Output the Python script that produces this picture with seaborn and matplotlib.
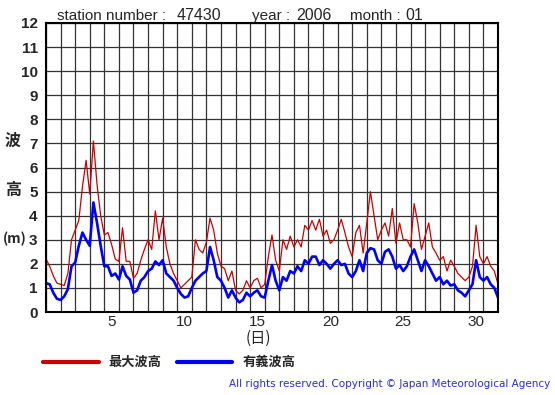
import numpy as np
import pandas as pd
import matplotlib

matplotlib.use("Agg")
import matplotlib.pyplot as plt
import seaborn as sns

# 6-hourly readings, Jan 1 00:00 .. Jan 31 24:00 (m)
max_wave = [
    2.2, 1.9, 1.5, 1.2, 1.15, 1.1, 1.6, 3.0, 3.4, 3.8, 5.2, 6.3, 4.9, 7.1, 5.3, 4.0,
    3.2, 3.3, 2.8, 2.2, 2.1, 3.5, 2.1, 2.1, 1.4, 1.6, 2.15, 2.6, 3.0, 2.6, 4.2, 3.0,
    3.9, 2.7, 2.0, 1.6, 1.3, 1.0, 1.15, 1.3, 1.45, 3.0, 2.6, 2.45, 2.9, 3.9, 3.4, 2.45,
    1.9, 1.8, 1.3, 1.7, 0.9, 0.75, 0.9, 1.3, 1.0, 1.3, 1.4, 1.0, 1.15, 2.3, 3.2, 2.15,
    1.7, 3.0, 2.6, 3.15, 2.7, 3.0, 2.7, 3.6, 3.4, 3.8, 3.4, 3.85, 3.15, 3.4, 2.85, 3.0,
    3.4, 3.85, 3.3, 2.7, 2.3, 3.3, 3.6, 2.45, 3.7, 5.0, 4.0, 3.0, 3.4, 3.7, 3.15, 4.3,
    2.85, 3.7, 3.0, 3.0, 2.7, 4.5, 3.7, 2.6, 3.15, 3.7, 2.7, 2.45, 2.15, 2.3, 1.7, 2.15,
    1.9, 1.6, 1.45, 1.3, 1.45, 1.9, 3.6, 2.3, 2.0, 2.3, 1.9, 1.7, 1.15,
]
sig_wave = [
    1.2, 1.15, 0.8, 0.55, 0.5, 0.65, 0.95, 1.9, 2.05, 2.75, 3.3, 3.0, 2.75, 4.55, 3.7, 2.75,
    1.9, 1.9, 1.5, 1.6, 1.35, 1.9, 1.5, 1.35, 0.8, 0.9, 1.3, 1.45, 1.7, 1.8, 2.1, 1.95,
    2.15, 1.6, 1.45, 1.3, 1.0, 0.75, 0.6, 0.65, 1.0, 1.3, 1.45, 1.6, 1.7, 2.7, 2.15, 1.45,
    1.3, 1.0, 0.6, 0.9, 0.6, 0.4, 0.5, 0.8, 0.65, 0.8, 0.9, 0.65, 0.6, 1.3, 1.95, 1.3,
    0.9, 1.45, 1.3, 1.7, 1.6, 1.9, 1.7, 2.15, 2.0, 2.3, 2.3, 1.95, 2.15, 2.0, 1.8, 2.0,
    2.15, 1.95, 2.0, 1.6, 1.45, 1.7, 2.15, 1.7, 2.45, 2.65, 2.6, 2.15, 2.0, 2.5, 2.6, 2.3,
    1.8, 1.95, 1.7, 1.9, 2.3, 2.6, 2.15, 1.7, 2.15, 1.9, 1.6, 1.3, 1.45, 1.15, 1.3, 1.1,
    1.15, 0.9, 0.8, 0.65, 0.9, 1.15, 2.15, 1.45, 1.3, 1.45, 1.15, 1.0, 0.6,
]
day_labels = [5, 10, 15, 20, 25, 30]

days = np.arange(len(max_wave)) * 0.25
df = pd.DataFrame({"day": days, "max": max_wave, "sig": sig_wave})

sns.set_style("white")
plt.rcParams["font.family"] = ["Liberation Sans", "DejaVu Sans", "Noto Sans CJK JP"]
jp = ["Noto Sans CJK JP", "DejaVu Sans"]

fig = plt.figure(figsize=(5.55, 3.95), dpi=100)
ax = fig.add_axes([46 / 555, 1 - 312 / 395, 452 / 555, 289 / 395])

sns.lineplot(data=df, x="day", y="max", ax=ax, color="#CC0000", linewidth=0.9)
sns.lineplot(data=df, x="day", y="sig", ax=ax, color="#0000FF", linewidth=1.9)

ax.set_xlim(0, 31)
ax.set_ylim(0, 12)
ax.set_xticks(range(0, 32), minor=True)
ax.set_xticks([d - 0.5 for d in day_labels])
ax.set_xticklabels([str(d) for d in day_labels], fontsize=11)
ax.set_yticks(range(0, 13))
ax.set_yticklabels([str(v) for v in range(0, 13)], fontsize=11, fontweight="bold")
ax.tick_params(axis="x", which="both", length=0, pad=2)
ax.tick_params(axis="y", length=4, width=1, direction="out", pad=2, color="black")
ax.grid(True, axis="x", which="minor", color="#333333", linewidth=0.9)
ax.grid(True, axis="y", which="major", color="#333333", linewidth=0.9)
ax.set_axisbelow(True)
ax.set_xlabel("")
ax.set_ylabel("")
for s in ax.spines.values():
    s.set_color("black")
    s.set_linewidth(1.5)

# header
hy = 1 - 16 / 395
fig.text(57 / 555, hy, "station number :", fontsize=11, va="center")
fig.text(177 / 555, hy, "47430", fontsize=11.5, va="center")
fig.text(252 / 555, hy, "year :", fontsize=11, va="center")
fig.text(296 / 555, hy, "2006", fontsize=11.5, va="center")
fig.text(350 / 555, hy, "month :", fontsize=11, va="center")
fig.text(405 / 555, hy, "01", fontsize=11.5, va="center")

# y label
fig.text(13 / 555, 1 - 141 / 395, "波", family=jp, fontsize=11.5, fontweight="bold", ha="center", va="center")
fig.text(13 / 555, 1 - 190 / 395, "高", family=jp, fontsize=11.5, fontweight="bold", ha="center", va="center")
fig.text(15 / 555, 1 - 239 / 395, "(m)", family=jp, fontsize=10, fontweight="bold", ha="center", va="center")

# x label
fig.text(258 / 555, 1 - 338 / 395, "(日)", family=jp, fontsize=11, ha="center", va="center")

# legend
fig.add_artist(plt.Line2D([43 / 555, 99 / 555], [1 - 362 / 395] * 2, color="#CC0000", linewidth=3))
fig.text(108 / 555, 1 - 362 / 395, "最大波高", family=jp, fontsize=9.5, fontweight="bold", va="center")
fig.add_artist(plt.Line2D([177 / 555, 232 / 555], [1 - 362 / 395] * 2, color="#0000FF", linewidth=3))
fig.text(243 / 555, 1 - 362 / 395, "有義波高", family=jp, fontsize=9.5, fontweight="bold", va="center")

fig.text(550 / 555, 1 - 384 / 395, "All rights reserved. Copyright © Japan Meteorological Agency",
         family=["DejaVu Sans"], fontsize=7.5, color="#2B2BD9", ha="right", va="center")

fig.savefig("out.png", dpi=100)
